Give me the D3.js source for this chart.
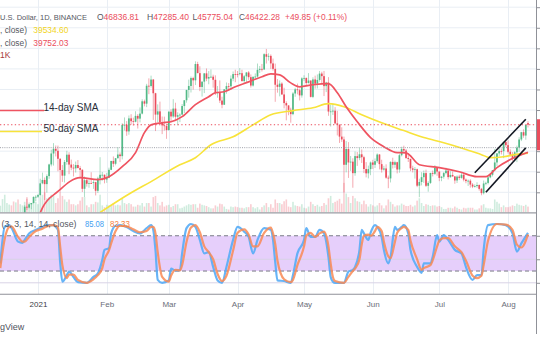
<!DOCTYPE html>
<html><head><meta charset="utf-8">
<script src="https://cdn.jsdelivr.net/npm/d3@7"></script>
<style>
html,body{margin:0;padding:0;background:#fff;overflow:hidden}
svg{display:block}
text{font-family:"Liberation Sans",Arial,sans-serif}
</style>
</head><body>
<svg id="chart" width="540" height="340"></svg>
<script>
// ---- Daily candles, BTC/USD (Binance), 2020-12-15 .. 2021-08-10 ----
const firstDay = "2020-12-15";
const lastDay = "2021-08-10";

const opens = [
  19275,19426,21335,22797,23107,23821,23455,22719,23810,23232,23729,24712,26493,26281,27079,27385,28875,
  28923,29331,32178,33000,31988,33949,36769,39432,40582,40088,38150,35404,34051,37371,39144,36742,35994,35828,36631,35891,35468,30850,32945,32078,32259,32254,32467,30366,33365,34252,34262,
  33092,33526,35466,37618,36936,38290,39186,38795,46374,46420,44807,47969,47287,47153,48577,47911,49133,52119,51552,55906,55841,57408,54087,48891,49677,47073,46276,46106,
  45135,49587,48440,50349,48374,48751,48882,50971,52375,54884,55851,57773,57221,61188,58968,55605,56900,58912,57648,58030,58102,57351,54083,54340,52303,51293,55025,55817,55777,57635,58746,
  58740,58720,58950,57051,58202,59129,57991,55954,58077,58142,59769,60002,59860,63575,62959,63159,61334,60006,56150,55633,56425,53787,51690,51125,50047,49004,54021,55033,54824,53555,
  57697,57797,56578,57169,53200,57436,56393,57314,58862,58240,55816,56670,49631,49670,49841,46762,46431,43538,42849,36690,40526,37252,37449,34655,38796,38324,39241,38529,35663,34605,35641,
  37253,36694,37568,39187,36851,35520,35797,33552,33380,37389,36693,37313,35546,39020,40516,40144,38349,38092,35819,35483,35600,31608,32509,33678,34663,31584,32283,34700,34494,35911,
  35045,33504,33786,34669,35287,33690,34220,33863,32877,33815,33502,34259,33087,32730,32820,31880,31383,31521,31778,30839,29790,32144,32287,33634,34258,35381,37255,39456,40019,40016,42206,
  41461,39845,39147,38207,39723,40862,42836,44614,43792,46836.81
];
const highs = [
  19570,21560,23800,23285,24170,24295,24102,23837,24100,23789,24789,26867,28422,27500,27410,28996,29300,
  29600,33300,34778,33600,34360,36939,40365,41950,41380,41350,38264,36628,37850,40100,39747,37950,36852,37469,37850,36415,35600,33826,33456,32944,34875,32921,32557,33783,38531,34933,34342,
  34717,35984,37662,38708,38310,40955,39700,46794,48200,47310,48678,48985,48150,49707,49010,50638,52618,52530,56368,57700,58352,57534,54183,51374,52041,48424,48394,46638,
  49790,50200,52640,51773,49448,49200,51450,52402,54895,57387,58150,58081,61844,61724,60633,56938,58981,60100,59468,59880,58589,58430,55838,57200,53240,55073,56700,56559,58400,59368,59800,
  59490,60200,59791,58500,59247,59475,58655,58153,58894,61300,60699,61199,63800,64854,63800,63520,62506,61287,57526,57200,56757,55410,52120,51166,50567,54356,55400,56428,55196,57963,
  58458,57911,58981,57200,57963,58360,58650,59500,59300,59500,56862,58000,51330,51570,50700,49800,46549,45800,43546,42451,42200,38831,38270,39920,39791,40841,40411,38877,37338,36488,37499,
  37894,38225,39476,39289,37917,36436,36800,34068,37534,38400,37689,37436,39380,41064,41330,40527,39559,38202,36457,36137,35750,33298,34881,35298,35500,32700,34749,35297,36600,36100,
  35057,33977,34945,35967,35293,35118,35059,33900,34100,34262,34666,34678,33340,33114,33185,32249,31935,32435,31899,31063,32859,32576,33650,34500,35398,40550,39542,40900,40640,42316,42448,
  42599,40459,39780,39969,41350,43392,44700,45310,46454,47285.40
];
const lows = [
  19050,19280,21230,22350,22750,23060,21815,22353,22600,22703,23463,24500,25700,26101,25880,27320,27850,
  28624,28946,31962,28130,29900,33288,36300,36500,38720,35111,30420,32531,32380,36701,34408,35357,33850,34800,35844,33400,30071,28850,31390,31106,32054,30837,29241,29842,31915,32825,32171,
  32296,33418,35362,36161,36570,38215,37351,37988,45020,43727,43994,46400,46202,47014,45500,47000,48947,50901,50710,53863,55477,47600,44892,47004,46900,44150,45000,43000,
  45000,47047,48100,47500,46300,47070,48882,49274,51789,53005,54272,54962,56078,58966,54600,53271,54123,57023,56270,57820,55450,53650,53000,51700,50427,51226,53962,54691,54901,57000,56769,
  57935,58428,56880,56478,56817,57333,55473,55700,57654,57900,59018,59370,59770,61301,62020,60000,59580,52000,54221,53329,53695,50400,47500,48733,46930,48753,53222,53813,52330,53013,
  57052,56035,56435,53046,52900,55200,55241,56900,56235,53400,54370,48600,46000,48800,46555,43825,42001,42250,30000,34850,33488,35200,31111,34031,36419,37800,37134,34684,33632,33379,34153,
  35667,35920,37170,35567,34800,35257,33300,31000,32396,35800,35950,34600,34757,38730,39506,38116,37365,35129,34833,33336,31251,28805,31683,32286,31275,30151,32035,33862,34225,34017,
  32711,32700,33316,34357,33125,33532,33777,32077,32261,33004,33306,32658,32202,31550,31133,31020,31165,31108,30407,29278,29482,31708,31924,33401,33851,35205,36383,38772,39200,38313,41000,
  39422,38690,37642,37508,37332,39853,42446,43261,42779,45775.04
];
const closes = [
  19426,21335,22797,23107,23821,23455,22719,23810,23232,23729,24712,26493,26281,27079,27385,28875,28923,
  29331,32178,33000,31988,33949,36769,39432,40582,40088,38150,35404,34051,37371,39144,36742,35994,35828,36631,35891,35468,30850,32945,32078,32259,32254,32467,30366,33365,34252,34262,33092,
  33526,35466,37618,36936,38290,39186,38795,46374,46420,44807,47969,47287,47153,48577,47911,49133,52119,51552,55906,55841,57408,54087,48891,49677,47073,46276,46106,45135,
  49587,48440,50349,48374,48751,48882,50971,52375,54884,55851,57773,57221,61188,58968,55605,56900,58912,57648,58030,58102,57351,54083,54340,52303,51293,55025,55817,55777,57635,58746,58740,
  58720,58950,57051,58202,59129,57991,55954,58077,58142,59769,60002,59860,63575,62959,63159,61334,60006,56150,55633,56425,53787,51690,51125,50047,49004,54021,55033,54824,53555,57697,
  57797,56578,57169,53200,57436,56393,57314,58862,58240,55816,56670,49631,49670,49841,46762,46431,43538,42849,36690,40526,37252,37449,34655,38796,38324,39241,38529,35663,34605,35641,37253,
  36694,37568,39187,36851,35520,35797,33552,33380,37389,36693,37313,35546,39020,40516,40144,38349,38092,35819,35483,35600,31608,32509,33678,34663,31584,32283,34700,34494,35911,35045,
  33504,33786,34669,35287,33690,34220,33863,32877,33815,33502,34259,33087,32730,32820,31880,31383,31521,31778,30839,29790,32144,32287,33634,34258,35381,37255,39456,40019,40016,42206,41461,
  39845,39147,38207,39723,40862,42836,44614,43792,46372.43,46422.28
];
// daily volume, thousand BTC
const volumes = [
  57,113,150,80,67,60,93,85,110,70,60,90,130,70,80,90,90,
  70,130,150,170,120,130,150,140,80,120,180,140,110,90,110,70,70,60,70,100,130,130,60,45,70,70,90,85,150,60,45,
  65,60,60,80,60,65,60,120,80,70,80,70,50,50,65,60,80,50,80,80,50,130,140,80,60,90,50,60,
  65,45,55,70,70,35,40,50,60,70,65,70,70,40,75,65,60,55,45,35,35,60,50,75,70,50,30,25,50,45,50,
  45,40,40,35,45,45,70,45,35,45,25,45,60,80,45,70,40,110,80,80,70,95,110,50,45,90,60,55,50,70,
  40,35,50,90,70,55,65,50,55,80,65,120,140,80,90,100,115,75,250,160,130,80,140,120,95,90,70,100,70,50,70,
  60,50,60,80,60,35,60,110,90,70,50,60,60,75,65,55,55,65,50,60,100,120,80,55,70,65,55,60,60,50,
  55,45,30,30,40,40,35,50,40,30,25,40,35,40,40,40,25,25,35,60,70,40,35,35,30,110,90,75,45,60,45,
  45,50,60,55,75,65,60,55,65,50
];

// ---- Moving averages ----
const smaFastDates = ["2021-01-02","2021-01-03","2021-01-10","2021-01-20","2021-01-28","2021-02-02","2021-02-08","2021-02-14","2021-02-18","2021-02-21","2021-02-26","2021-03-02","2021-03-07","2021-03-13","2021-03-19","2021-03-22","2021-03-26","2021-03-31","2021-04-06","2021-04-12","2021-04-16","2021-04-20","2021-04-25","2021-04-29","2021-05-05","2021-05-12","2021-05-16","2021-05-20","2021-05-25","2021-05-31","2021-06-06","2021-06-12","2021-06-16","2021-06-22","2021-07-01","2021-07-10","2021-07-18","2021-07-22","2021-07-27","2021-08-02","2021-08-10"];
const smaFastValues = [25000,26200,30200,33550,33100,33800,36250,39650,44500,46400,46900,47150,48400,51300,53250,54200,54450,55650,56850,58100,58800,58550,56600,55650,56150,56400,54200,50800,47150,43300,41100,39650,39600,36700,36000,35000,33800,33800,36000,37950,39752.03];

const smaSlowDates = ["2021-01-29","2021-02-12","2021-02-21","2021-03-06","2021-03-13","2021-03-20","2021-03-30","2021-04-08","2021-04-16","2021-04-26","2021-05-05","2021-05-12","2021-05-19","2021-05-27","2021-06-05","2021-06-15","2021-06-24","2021-07-03","2021-07-12","2021-07-20","2021-07-24","2021-07-30","2021-08-04","2021-08-10"];
const smaSlowValues = [25100,29900,32600,36700,38400,41550,43500,46400,48850,49850,50550,51550,50800,48850,46900,45000,43300,42050,40600,39150,38420,38650,39150,39534.60];

// ---- Stochastic RSI (3, 3, 14, 14) ----
const stochDates = ["2020-12-15","2020-12-17","2020-12-19","2020-12-20","2020-12-23","2020-12-25","2020-12-26","2020-12-28","2020-12-31","2021-01-03","2021-01-05","2021-01-08","2021-01-09","2021-01-10","2021-01-11","2021-01-12","2021-01-14","2021-01-15","2021-01-17","2021-01-19","2021-01-23","2021-01-26","2021-01-28","2021-01-30","2021-01-31","2021-02-02","2021-02-03","2021-02-05","2021-02-07","2021-02-10","2021-02-13","2021-02-16","2021-02-19","2021-02-21","2021-02-22","2021-02-23","2021-02-24","2021-02-26","2021-03-01","2021-03-02","2021-03-04","2021-03-06","2021-03-07","2021-03-09","2021-03-11","2021-03-13","2021-03-15","2021-03-17","2021-03-19","2021-03-21","2021-03-23","2021-03-25","2021-03-27","2021-03-30","2021-04-01","2021-04-04","2021-04-06","2021-04-08","2021-04-10","2021-04-13","2021-04-16","2021-04-17","2021-04-18","2021-04-19","2021-04-22","2021-04-25","2021-04-26","2021-04-28","2021-05-01","2021-05-02","2021-05-04","2021-05-06","2021-05-08","2021-05-10","2021-05-12","2021-05-13","2021-05-14","2021-05-15","2021-05-19","2021-05-21","2021-05-23","2021-05-24","2021-05-26","2021-05-27","2021-05-28","2021-05-30","2021-05-31","2021-06-02","2021-06-03","2021-06-05","2021-06-06","2021-06-08","2021-06-09","2021-06-11","2021-06-12","2021-06-14","2021-06-15","2021-06-17","2021-06-18","2021-06-21","2021-06-23","2021-06-24","2021-06-27","2021-06-28","2021-06-30","2021-07-01","2021-07-03","2021-07-05","2021-07-08","2021-07-11","2021-07-13","2021-07-16","2021-07-18","2021-07-20","2021-07-21","2021-07-23","2021-07-27","2021-07-31","2021-08-03","2021-08-05","2021-08-07","2021-08-10"];
const stochK = [33,95,98,94,70,68,73,84,90,95,98,98,95,90,35,2,13,19,10,1,0,10,16,39,56,59,84,97,98,95,88,84,93,98,90,55,5,0,4,24,21,21,50,93,100,95,73,50,52,27,4,0,27,73,95,87,78,50,73,93,90,73,35,4,3,0,13,50,73,93,78,78,90,84,44,10,2,0,0,19,22,27,56,90,84,73,85,98,95,78,56,33,44,95,90,95,98,84,56,27,17,33,33,44,81,70,81,73,56,50,27,5,13,13,56,98,100,98,84,53,67,85.08];
const stochD = [25,75,95,96,78,70,70,78,88,92,96,98,97,94,62,30,8,14,14,5,0,6,13,25,40,55,67,88,97,96,91,86,88,95,95,84,52,10,2,12,22,21,30,70,94,98,86,62,52,40,15,3,12,55,85,91,82,62,62,85,94,84,66,38,6,1,5,30,62,80,85,78,84,87,62,33,10,3,0,10,20,24,40,65,80,82,80,88,95,88,70,45,42,70,85,93,95,90,72,40,22,25,30,38,62,72,76,76,62,52,38,12,8,12,30,72,100,99,90,65,60,82.33];

// ---- Drawn trend channel ----
const channelDates = ["2021-07-17","2021-08-09"];
const channelUpper = [34760,47750];
const channelLowerDates = ["2021-07-22","2021-08-09"];
const channelLower = [30000,40800];

// ---- Axis / reference values ----
const priceTicks = [30000,35000,40000,45000,50000,55000,60000,65000,70000,75000];
const stochGrid = [0,40];
const stochBands = [20,80];
const monthDates = ["2021-01-01","2021-02-01","2021-03-01","2021-04-01","2021-05-01","2021-06-01","2021-07-01","2021-08-01"];
const monthLabels = ["2021","Feb","Mar","Apr","May","Jun","Jul","Aug"];
const lastPrice = 46422.28;
const markerPrice = 40850;

// ---- Layout ----
const plotRight = 536;
const mainTop = 0, mainBottom = 212.5;
const oscTop = 213, oscBottom = 294;

const UP = "#53b987", DOWN = "#eb4d5c";
const GRID = "#e9eef4";

const parse = d3.utcParse("%Y-%m-%d");
const svg = d3.select("#chart");

const x = d3.scaleUtc().domain([parse(firstDay), parse(lastDay)]).range([0.3, 528]);
const y = d3.scaleLinear().domain([30000, 75000]).range([192.3, 7.2]);
const yVol = d3.scaleLinear().domain([0, 270]).range([mainBottom, mainBottom - 32]);
const yOsc = d3.scaleLinear().domain([0, 100]).range([282.8, 224]);

const days = d3.utcDay.range(parse(firstDay), d3.utcDay.offset(parse(lastDay), 1));
const candles = days.map((d, i) => ({date: d, o: opens[i], h: highs[i], l: lows[i], c: closes[i], v: volumes[i]}));

const defs = svg.append("defs");
defs.append("clipPath").attr("id", "clipMain").append("rect")
  .attr("x", 0).attr("y", mainTop).attr("width", plotRight).attr("height", mainBottom - mainTop);
defs.append("clipPath").attr("id", "clipOsc").append("rect")
  .attr("x", 0).attr("y", oscTop).attr("width", plotRight).attr("height", oscBottom - oscTop);

// grid
const grid = svg.append("g");
grid.selectAll("line.v").data(monthDates).join("line")
  .attr("x1", d => Math.round(x(parse(d))) + 0.5).attr("x2", d => Math.round(x(parse(d))) + 0.5)
  .attr("y1", 0).attr("y2", oscBottom).attr("stroke", GRID).attr("stroke-width", 1);
grid.selectAll("line.h").data(priceTicks).join("line")
  .attr("x1", 0).attr("x2", plotRight).attr("y1", d => y(d)).attr("y2", d => y(d))
  .attr("stroke", GRID).attr("stroke-width", 1);

// ---- main pane ----
const main = svg.append("g").attr("clip-path", "url(#clipMain)");

// volume
main.append("g").selectAll("rect").data(candles).join("rect")
  .attr("x", d => x(d.date) - 0.8).attr("width", 1.6)
  .attr("y", d => yVol(d.v)).attr("height", d => mainBottom - yVol(d.v))
  .attr("fill", d => d.c >= d.o ? UP : DOWN).attr("opacity", 0.28);

// candles
const cg = main.append("g");
cg.selectAll("line").data(candles).join("line")
  .attr("x1", d => x(d.date)).attr("x2", d => x(d.date))
  .attr("y1", d => y(d.h)).attr("y2", d => y(d.l))
  .attr("stroke", d => d.c >= d.o ? UP : DOWN).attr("stroke-width", 0.8).attr("opacity", 0.6);
cg.selectAll("rect").data(candles).join("rect")
  .attr("x", d => x(d.date) - 0.85).attr("width", 1.7)
  .attr("y", d => y(Math.max(d.o, d.c)))
  .attr("height", d => Math.max(0.8, Math.abs(y(d.o) - y(d.c))))
  .attr("fill", d => d.c >= d.o ? UP : DOWN);

// moving averages
const maLine = (ys) => d3.line().x(d => x(d[0])).y(d => ys(d[1])).curve(d3.curveMonotoneX);
main.append("path")
  .datum(smaSlowDates.map((d, i) => [parse(d), smaSlowValues[i]]))
  .attr("d", maLine(y)).attr("fill", "none").attr("stroke", "#f8e33a").attr("stroke-width", 1.6);
main.append("path")
  .datum(smaFastDates.map((d, i) => [parse(d), smaFastValues[i]]))
  .attr("d", maLine(y)).attr("fill", "none").attr("stroke", "#ef5461").attr("stroke-width", 1.7);

// last price and marker lines
main.append("line").attr("x1", 0).attr("x2", plotRight).attr("y1", y(lastPrice)).attr("y2", y(lastPrice))
  .attr("stroke", "#eb4d5c").attr("stroke-width", 1).attr("stroke-dasharray", "1.3,2.4");
main.append("line").attr("x1", 0).attr("x2", plotRight).attr("y1", y(markerPrice)).attr("y2", y(markerPrice))
  .attr("stroke", "#9598a1").attr("stroke-width", 0.9).attr("stroke-dasharray", "1,1.2");

// trend channel
const chan = d3.line().x(d => x(d[0])).y(d => y(d[1]));
main.append("path").datum(channelDates.map((d, i) => [parse(d), channelUpper[i]]))
  .attr("d", chan).attr("stroke", "#131722").attr("stroke-width", 1.6).attr("fill", "none");
main.append("path").datum(channelLowerDates.map((d, i) => [parse(d), channelLower[i]]))
  .attr("d", chan).attr("stroke", "#131722").attr("stroke-width", 1.6).attr("fill", "none");

// SMA annotations
const ann = svg.append("g");
ann.append("line").attr("x1", 0).attr("x2", 44).attr("y1", 110.5).attr("y2", 110.5)
  .attr("stroke", "#ef5461").attr("stroke-width", 1.5);
ann.append("text").attr("x", 43.5).attr("y", 110.8).attr("font-size", 10).attr("fill", "#2a2e39").text("14-day SMA");
ann.append("line").attr("x1", 0).attr("x2", 42).attr("y1", 131.5).attr("y2", 131.5)
  .attr("stroke", "#f8e33a").attr("stroke-width", 1.6);
ann.append("text").attr("x", 43.5).attr("y", 131.8).attr("font-size", 10).attr("fill", "#2a2e39").text("50-day SMA");

// ---- oscillator pane ----
const osc = svg.append("g");
osc.append("rect").attr("x", 0).attr("width", plotRight)
  .attr("y", yOsc(stochBands[1])).attr("height", yOsc(stochBands[0]) - yOsc(stochBands[1]))
  .attr("fill", "#e6cffb");
osc.selectAll("line.g").data(stochGrid).join("line")
  .attr("x1", 0).attr("x2", plotRight).attr("y1", d => yOsc(d)).attr("y2", d => yOsc(d))
  .attr("stroke", "#d9d3e6").attr("stroke-width", 1);
osc.selectAll("line.b").data(stochBands).join("line")
  .attr("x1", 0).attr("x2", plotRight).attr("y1", d => yOsc(d)).attr("y2", d => yOsc(d))
  .attr("stroke", "#787b86").attr("stroke-width", 1).attr("stroke-dasharray", "4,3");

const oscClip = osc.append("g").attr("clip-path", "url(#clipOsc)");
const stLine = d3.line().x(d => x(d[0])).y(d => yOsc(d[1])).curve(d3.curveMonotoneX);
oscClip.append("path").datum(stochDates.map((d, i) => [parse(d), stochK[i]]))
  .attr("d", stLine).attr("fill", "none").attr("stroke", "#56acf6").attr("stroke-width", 2.2).attr("opacity", 0.9);
oscClip.append("path").datum(stochDates.map((d, i) => [parse(d), stochD[i]]))
  .attr("d", stLine).attr("fill", "none").attr("stroke", "#f98a55").attr("stroke-width", 2.2).attr("opacity", 0.85);

// pane borders
svg.append("line").attr("x1", 0).attr("x2", plotRight).attr("y1", mainBottom + 0.3).attr("y2", mainBottom + 0.3)
  .attr("stroke", "#9a9ca3").attr("stroke-width", 1.3);
svg.append("line").attr("x1", 0).attr("x2", plotRight).attr("y1", oscBottom + 0.3).attr("y2", oscBottom + 0.3)
  .attr("stroke", "#8f9198").attr("stroke-width", 1.1);
svg.append("line").attr("x1", plotRight + 0.5).attr("x2", plotRight + 0.5).attr("y1", 0).attr("y2", 334)
  .attr("stroke", "#8f9198").attr("stroke-width", 1);

// right price scale ticks
const yAxis = d3.axisRight(y).tickValues(priceTicks).tickSize(4).tickFormat("");
svg.append("g").attr("transform", `translate(${plotRight + 0.5},0)`).call(yAxis)
  .call(g => g.select(".domain").remove())
  .call(g => g.selectAll(".tick line").attr("stroke", "#8f9198"));
const oAxis = d3.axisRight(yOsc).tickValues([0, 40, 80]).tickSize(4).tickFormat("");
svg.append("g").attr("transform", `translate(${plotRight + 0.5},0)`).call(oAxis)
  .call(g => g.select(".domain").remove())
  .call(g => g.selectAll(".tick line").attr("stroke", "#8f9198"));

// last price tag on the scale
svg.append("rect").attr("x", plotRight + 1).attr("y", y(lastPrice) - 5.5).attr("width", 4).attr("height", 31)
  .attr("fill", "#eb4d5c");

// time axis
const xAxis = d3.axisBottom(x).tickValues(monthDates.map(parse)).tickSize(0)
  .tickFormat((d, i) => monthLabels[i]);
svg.append("g").attr("transform", `translate(0,${oscBottom})`).call(xAxis)
  .call(g => g.select(".domain").remove())
  .call(g => g.selectAll("text").attr("y", 13).attr("dy", 0)
    .attr("font-size", 8).attr("font-family", "Liberation Sans, Arial, sans-serif")
    .attr("fill", (d, i) => i === 0 ? "#3a3d46" : "#6a6d78"));

// ---- legends ----
const GREY = "#555861", RED = "#eb4d5c";
const leg = svg.append("g").attr("font-size", 8.5);
const put = (xp, yp, txt, fill, len, fs) => {
  const t = leg.append("text").attr("x", xp).attr("y", yp).attr("fill", fill).text(txt);
  if (fs) t.attr("font-size", fs);
  if (len) t.attr("textLength", len).attr("lengthAdjust", "spacingAndGlyphs");
  return t;
};
// label letter + value as one text run
const pair = (xp, yp, key, val, valFill, len) => {
  const t = leg.append("text").attr("x", xp).attr("y", yp)
    .attr("textLength", len).attr("lengthAdjust", "spacingAndGlyphs");
  t.append("tspan").attr("fill", GREY).text(key);
  t.append("tspan").attr("fill", valFill).text(val);
  return t;
};
put(0, 20.3, "U.S. Dollar, 1D, BINANCE", GREY, 87, 7.8);
pair(97, 20.3, "O", "46836.81", RED, 42);
pair(147, 20.3, "H", "47285.40", RED, 42);
pair(192.5, 20.3, "L", "45775.04", RED, 40.5);
pair(239, 20.3, "C", "46422.28", RED, 41);
put(285, 20.3, "+49.85 (+0.11%)", RED, 62);
put(0, 33, ", close)", GREY, 27); put(33.3, 33, "39534.60", "#f2d51c", 35);
put(0, 45.7, ", close)", GREY, 27); put(33.3, 45.7, "39752.03", RED, 35);
put(0, 57.5, "1K", "#a83a3a");
put(1.5, 227, "(3, 3, 14, 14, close)", GREY, 75, 8.2);
put(85, 227, "85.08", "#3fa0f2", 19);
put(110, 227, "82.33", "#f7823f", 20);

svg.append("text").attr("x", 0).attr("y", 330).attr("font-size", 9).attr("fill", "#50535e").text("gView");
</script>
</body></html>
